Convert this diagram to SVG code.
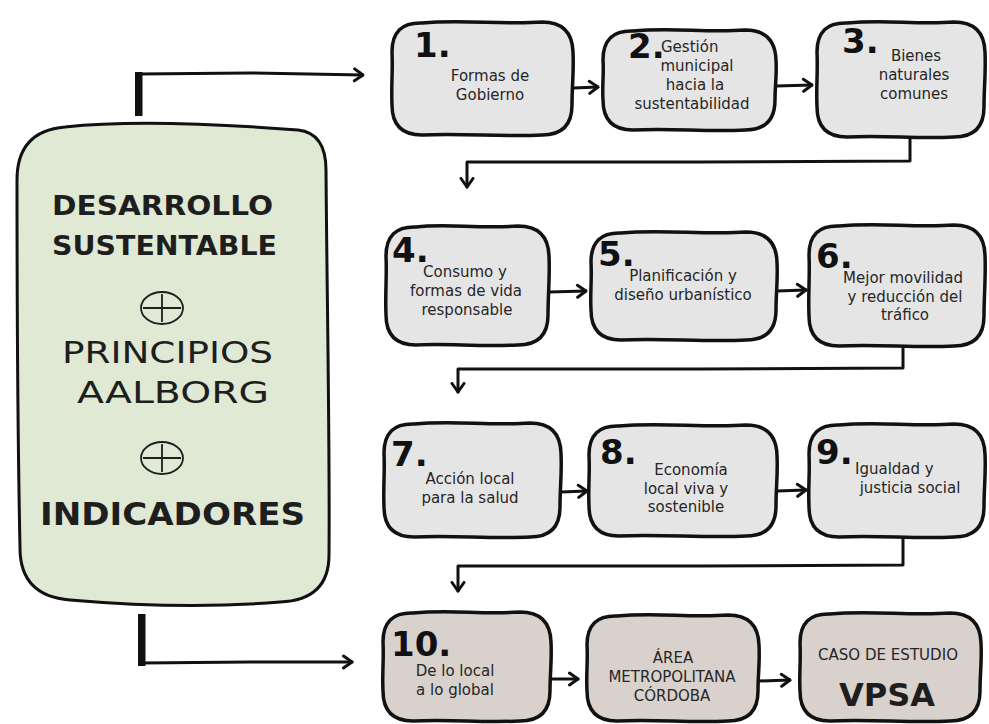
<svg xmlns="http://www.w3.org/2000/svg" width="989" height="724" viewBox="0 0 989 724">
<style>
.bx{stroke:#111;stroke-width:3.5;stroke-linejoin:round}
.g{fill:#e5e5e5}
.t{fill:#d9d1cc}
.gr{fill:#dfe9d4;stroke:#111;stroke-width:3}
.ln{fill:none;stroke:#111;stroke-width:3;stroke-linecap:round;stroke-linejoin:round}
.bar{fill:#111}
.s{font-family:"DejaVu Sans","Liberation Sans",sans-serif;font-size:15px;fill:#262626;text-anchor:middle}
.sl{font-family:"DejaVu Sans","Liberation Sans",sans-serif;font-size:15px;fill:#262626}
.n{font-family:"DejaVu Sans","Liberation Sans",sans-serif;font-size:34px;font-weight:bold;fill:#111}
.big{font-family:"DejaVu Sans","Liberation Sans",sans-serif;font-weight:bold;fill:#1e1e1e;text-anchor:middle}
.reg{font-family:"DejaVu Sans","Liberation Sans",sans-serif;fill:#1e1e1e;text-anchor:middle}
.cap{font-family:"DejaVu Sans","Liberation Sans",sans-serif;font-size:15px;fill:#262626;text-anchor:middle}
.plus{fill:none;stroke:#1e1e1e;stroke-width:1.8}
</style>
<defs>
<marker id="chev" viewBox="0 0 12 16" markerWidth="12" markerHeight="16" refX="10.5" refY="8" orient="auto" markerUnits="userSpaceOnUse">
<path d="M2,2 L10.5,8 L2,14" fill="none" stroke="#111" stroke-width="3" stroke-linecap="round" stroke-linejoin="round"/>
</marker>
</defs>

<g id="connectors">
<rect class="bar" x="135" y="72" width="7.5" height="44"/>
<path class="ln" d="M138,74 L250,73 L363,75" marker-end="url(#chev)"/>
<rect class="bar" x="138" y="614" width="7.5" height="52"/>
<path class="ln" d="M142,663 L250,662 L352,662" marker-end="url(#chev)"/>
<path class="ln" d="M573,88 L598,87" marker-end="url(#chev)"/>
<path class="ln" d="M776,86 L812,85" marker-end="url(#chev)"/>
<path class="ln" d="M910,138 L910,161 L700,162 L467,162 L467,187" marker-end="url(#chev)"/>
<path class="ln" d="M549,292 L586,291" marker-end="url(#chev)"/>
<path class="ln" d="M777,291 L806,290" marker-end="url(#chev)"/>
<path class="ln" d="M903,347 L903,368 L700,369 L458,369 L458,392" marker-end="url(#chev)"/>
<path class="ln" d="M561,492 L587,491" marker-end="url(#chev)"/>
<path class="ln" d="M777,491 L806,490" marker-end="url(#chev)"/>
<path class="ln" d="M903,539 L903,565 L700,566 L458,566 L458,591" marker-end="url(#chev)"/>
<path class="ln" d="M552,679 L578,679" marker-end="url(#chev)"/>
<path class="ln" d="M760,681 L790,680" marker-end="url(#chev)"/>
</g>

<g id="main">
<path class="gr" d="M65,127 C130,120 220,124 298,130 Q326,133 326,170 C327,300 330,450 329,555 Q329,600 280,602 C210,608 140,606 70,600 Q20,596 20,548 C18,450 17,300 17,180 Q17,131 65,127 Z"/>
<text class="big" x="162.5" y="215" font-size="26" textLength="221" lengthAdjust="spacingAndGlyphs">DESARROLLO</text>
<text class="big" x="164.5" y="255" font-size="26" textLength="225" lengthAdjust="spacingAndGlyphs">SUSTENTABLE</text>
<ellipse class="plus" cx="162" cy="308" rx="21" ry="16"/>
<path class="plus" d="M162,294 L162,322 M143,308 L181,308"/>
<text class="reg" x="167.5" y="363" font-size="31" textLength="211" lengthAdjust="spacingAndGlyphs">PRINCIPIOS</text>
<text class="reg" x="173" y="403" font-size="31" textLength="192" lengthAdjust="spacingAndGlyphs">AALBORG</text>
<ellipse class="plus" cx="162" cy="458" rx="21" ry="16"/>
<path class="plus" d="M162,444 L162,472 M143,458 L181,458"/>
<text class="big" x="172.5" y="525" font-size="32" textLength="265" lengthAdjust="spacingAndGlyphs">INDICADORES</text>
</g>

<g id="n1">
<path class="bx g" d="M422,23 C462,19 502,25 542,22 Q572,22 573,52 C574,72 572,85 572,105 Q572,135 542,135 C502,137 462,133 422,135 Q392,135 392,105 C391,85 393,72 392,52 Q392,22 422,23 Z"/>
<text class="n" x="414" y="57">1.</text>
<text class="s" x="490" y="81">Formas de</text>
<text class="s" x="490" y="100">Gobierno</text>
</g>
<g id="n2">
<path class="bx g" d="M633,31 C673,27 705,33 745,30 Q775,30 776,60 C777,75 775,85 775,100 Q775,130 745,130 C705,132 673,128 633,130 Q603,130 603,100 C602,85 604,75 603,60 Q603,30 633,31 Z"/>
<text class="n" x="628" y="58">2.</text>
<text class="sl" x="661" y="52">Gestión</text>
<text class="s" x="697" y="71">municipal</text>
<text class="s" x="695" y="90">hacia la</text>
<text class="s" x="692" y="109">sustentabilidad</text>
</g>
<g id="n3">
<path class="bx g" d="M847,23 C887,19 914,25 954,22 Q984,22 985,52 C986,72 984,87 984,107 Q984,137 954,137 C914,139 887,135 847,137 Q817,137 817,107 C816,87 818,72 817,52 Q817,22 847,23 Z"/>
<text class="n" x="842" y="53">3.</text>
<text class="s" x="916" y="61">Bienes</text>
<text class="s" x="914" y="80">naturales</text>
<text class="s" x="914" y="99">comunes</text>
</g>

<g id="n4">
<path class="bx g" d="M416,227 C446,223 478,229 518,226 Q548,226 549,256 C550,276 548,295 548,315 Q548,345 518,345 C478,347 446,343 416,345 Q386,345 386,315 C385,295 387,276 386,256 Q386,226 416,227 Z"/>
<text class="n" x="392" y="262">4.</text>
<text class="s" x="465" y="277">Consumo y</text>
<text class="s" x="466" y="296">formas de vida</text>
<text class="s" x="467" y="315">responsable</text>
</g>
<g id="n5">
<path class="bx g" d="M621,233 C661,229 706,235 746,232 Q776,232 777,262 C778,280 776,292 776,310 Q776,340 746,340 C706,342 661,338 621,340 Q591,340 591,310 C590,292 592,280 591,262 Q591,232 621,233 Z"/>
<text class="n" x="598" y="266">5.</text>
<text class="s" x="683" y="281">Planificación y</text>
<text class="s" x="683" y="300">diseño urbanístico</text>
</g>
<g id="n6">
<path class="bx g" d="M839,226 C879,222 914,228 954,225 Q984,225 985,255 C986,275 984,296 984,316 Q984,346 954,346 C914,348 879,344 839,346 Q809,346 809,316 C808,296 810,275 809,255 Q809,225 839,226 Z"/>
<text class="n" x="816" y="268">6.</text>
<text class="s" x="903" y="283">Mejor movilidad</text>
<text class="s" x="905" y="302">y reducción del</text>
<text class="s" x="905" y="320">tráfico</text>
</g>

<g id="n7">
<path class="bx g" d="M414,424 C454,420 490,426 530,423 Q560,423 561,453 C562,473 560,487 560,507 Q560,537 530,537 C490,539 454,535 414,537 Q384,537 384,507 C383,487 385,473 384,453 Q384,423 414,424 Z"/>
<text class="n" x="391" y="466">7.</text>
<text class="s" x="470" y="484">Acción local</text>
<text class="s" x="470" y="503">para la salud</text>
</g>
<g id="n8">
<path class="bx g" d="M619,426 C659,422 706,428 746,425 Q776,425 777,455 C778,475 776,486 776,506 Q776,536 746,536 C706,538 659,534 619,536 Q589,536 589,506 C588,486 590,475 589,455 Q589,425 619,426 Z"/>
<text class="n" x="600" y="464">8.</text>
<text class="s" x="691" y="475">Economía</text>
<text class="s" x="686" y="494">local viva y</text>
<text class="s" x="686" y="512">sostenible</text>
</g>
<g id="n9">
<path class="bx g" d="M839,425 C879,421 914,427 954,424 Q984,424 985,454 C986,474 984,487 984,507 Q984,537 954,537 C914,539 879,535 839,537 Q809,537 809,507 C808,487 810,474 809,454 Q809,424 839,425 Z"/>
<text class="n" x="816" y="464">9.</text>
<text class="sl" x="855" y="474">Igualdad y</text>
<text class="s" x="910" y="493">justicia social</text>
</g>

<g id="n10">
<path class="bx t" d="M413,613 C453,609 480,615 520,612 Q550,612 551,642 C552,660 550,673 550,691 Q550,721 520,721 C480,723 453,719 413,721 Q383,721 383,691 C382,673 384,660 383,642 Q383,612 413,613 Z"/>
<text class="n" x="391" y="656">10.</text>
<text class="s" x="455" y="676">De lo local</text>
<text class="s" x="455" y="695">a lo global</text>
</g>
<g id="n11">
<path class="bx t" d="M617,616 C657,612 688,618 728,615 Q758,615 759,645 C760,662 758,674 758,691 Q758,721 728,721 C688,723 657,719 617,721 Q587,721 587,691 C586,674 588,662 587,645 Q587,615 617,616 Z"/>
<text class="cap" x="673" y="663">ÁREA</text>
<text class="cap" x="672" y="682">METROPOLITANA</text>
<text class="cap" x="672" y="701">CÓRDOBA</text>
</g>
<g id="n12">
<path class="bx t" d="M830,614 C870,610 910,616 950,613 Q980,613 981,643 C982,661 980,673 980,691 Q980,721 950,721 C910,723 870,719 830,721 Q800,721 800,691 C799,673 801,661 800,643 Q800,613 830,614 Z"/>
<text class="cap" x="888" y="660" textLength="140" lengthAdjust="spacingAndGlyphs">CASO DE ESTUDIO</text>
<text class="big" x="887" y="706" font-size="32">VPSA</text>
</g>
</svg>
